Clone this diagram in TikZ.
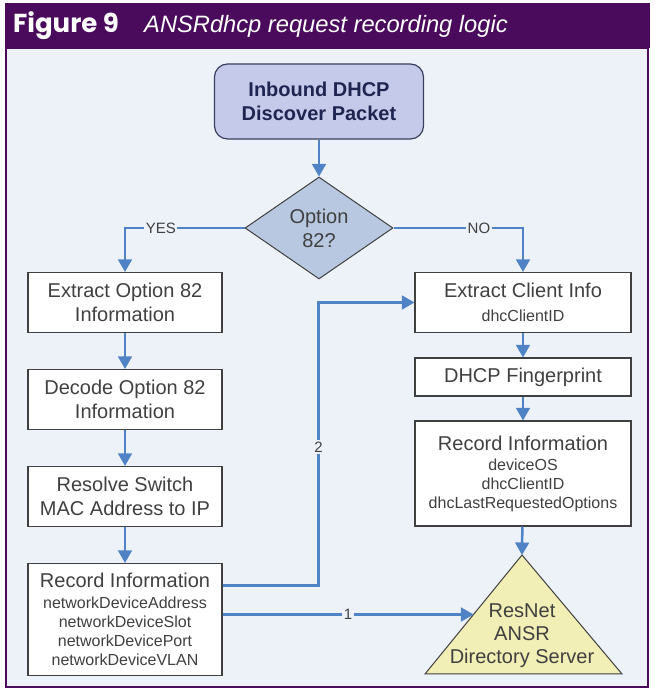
\documentclass[tikz,border=0pt]{standalone}
\usepackage{fontspec}
\setmainfont{Liberation Sans}
\newfontfamily\figfont{Poppins}
\usepackage{xcolor}
\usepackage{tikz}
\usetikzlibrary{shapes.geometric, arrows}
\definecolor{barpurple}{HTML}{4A0B5C}
\definecolor{panelbg}{HTML}{EDF2F9}
\definecolor{linkblue}{HTML}{5082C6}
\definecolor{boxline}{HTML}{404040}
\definecolor{startfill}{HTML}{C6CAEA}
\definecolor{startline}{HTML}{3A3F5C}
\definecolor{startink}{HTML}{1E2550}
\definecolor{decfill}{HTML}{B7C8E0}
\definecolor{srvfill}{HTML}{F1EEB6}
\newcommand{\bigline}{\fontsize{20}{24}\selectfont}
\newcommand{\smallline}{\fontsize{16}{19}\selectfont}
\tikzstyle{startstop} = [rectangle, rounded corners=13pt, minimum width=209pt, minimum height=75pt, text centered, align=center, draw=startline, line width=1.2pt, fill=startfill, text=startink, font=\bigline\bfseries]
\tikzstyle{decision} = [diamond, minimum width=148pt, minimum height=102pt, inner sep=0pt, aspect=1.45, align=center, draw=boxline, line width=1pt, fill=decfill, text=boxline, font=\bigline]
\tikzstyle{process} = [rectangle, minimum width=194pt, minimum height=60pt, text centered, align=center, draw=boxline, line width=1.2pt, fill=white, text=boxline, font=\bigline]
\tikzstyle{record} = [process, font=\smallline]
\tikzstyle{server} = [fill=srvfill, draw=boxline, line width=1pt, line join=miter]
\tikzstyle{servertext} = [align=center, inner sep=0pt, text=boxline, font=\fontsize{20}{23}\selectfont]
\tikzstyle{flowlabel} = [fill=panelbg, inner sep=1.5pt, text=boxline, font=\fontsize{15}{18}\selectfont]
\tikzset{arw/.style={-triangle 60, draw=linkblue, line width=2.5pt}}

\begin{document}
\begin{tikzpicture}[x=1pt, y=1pt, node distance=97pt]
			\useasboundingbox (0,0) rectangle (654,690);
			\fill [white] (0,0) rectangle (654,690);
			\filldraw [fill=panelbg, draw=barpurple, line width=2pt] (6,3) rectangle (648,642);
			\fill [barpurple] (5,642) rectangle (650,687);
			\node (fig) [anchor=base west, inner sep=0pt, text=white, font=\figfont\bfseries\fontsize{26}{30}\selectfont] at (13,657) {Figure 9};
			\node (cap) [anchor=base west, inner sep=0pt, text=white, font=\itshape\fontsize{23.7}{28}\selectfont] at (144,657) {ANSRdhcp request recording logic};
			
			\node (start) [startstop] at (319,588.5) {Inbound DHCP\\Discover Packet};
			\node (opt) [decision, below of=start, yshift=-29.5pt] {Option\\82?};
			\node (ext82) [process, below of=opt, xshift=-194pt, yshift=22.5pt] {Extract Option 82\\Information};
			\node (dec82) [process, below of=ext82] {Decode Option 82\\Information};
			\node (resolve) [process, below of=dec82] {Resolve Switch\\MAC Address to IP};
			\node (rec1) [record, minimum height=112pt, below of=resolve, yshift=-26pt]
			{{\bigline Record Information}\\[2pt]networkDeviceAddress\\networkDeviceSlot\\networkDevicePort\\networkDeviceVLAN};
			\node (cli) [process, minimum width=216pt, right of=ext82, xshift=301pt] {Extract Client Info\\\smallline dhcClientID};
			\node (finger) [process, minimum width=216pt, minimum height=38pt, below of=cli, yshift=22.5pt] {DHCP Fingerprint};
			\node (rec2) [record, minimum width=216pt, minimum height=105pt, below of=finger, yshift=0.5pt]
			{{\bigline Record Information}\\[1pt]deviceOS\\dhcClientID\\dhcLastRequestedOptions};
			
			% directory server triangle
			\coordinate (srvtop) at (522,135);
			\coordinate (srvleft) at (425,16);
			\coordinate (srvright) at (622,16);
			\coordinate (srvside) at (473.5,75.5);
			\filldraw [server] (srvtop) -- (srvleft) -- (srvright) -- cycle;
			\node (srv) [servertext] at (522,54) {ResNet\\ANSR\\Directory Server};
			
			
			\draw [arw] (start) -- (opt);
			\draw [arw] (opt.west) -| node[flowlabel, pos=0.35] {YES} (ext82.north);
			\draw [arw] (opt.east) -| node[flowlabel, pos=0.33] {NO} (cli.north);
			\draw [arw] (ext82) -- (dec82);
			\draw [arw] (dec82) -- (resolve);
			\draw [arw] (resolve) -- (rec1);
			\draw [arw] (cli) -- (finger);
			\draw [arw] (finger) -- (rec2);
			\draw [arw] (rec2) -- (srvtop);
			\draw [arw] ([yshift=34pt]rec1.east) -- ++(96pt,0) |- node[flowlabel, pos=0.245] {2} (cli.west);
			\draw [arw] (rec1.east |- srvside) -- node[flowlabel] {1} (srvside);
			
			
			\end{tikzpicture}
\end{document}
